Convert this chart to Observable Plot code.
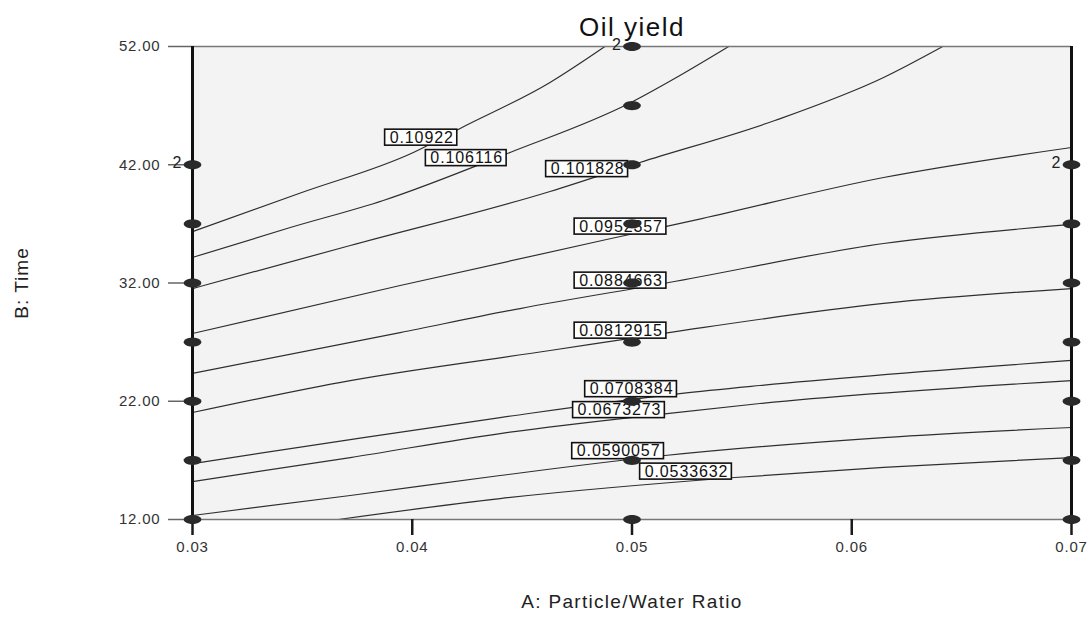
<!DOCTYPE html>
<html>
<head>
<meta charset="utf-8">
<script src="https://cdn.jsdelivr.net/npm/d3@7"></script>
<script src="https://cdn.jsdelivr.net/npm/@observablehq/plot@0.6"></script>
<style>
  html, body { margin: 0; padding: 0; background: #fff; }
  body { font-family: "Liberation Sans", Arial, sans-serif; }
</style>
</head>
<body>
<div id="chart"></div>
<script>
// ---- Text ----
const title = "Oil yield";
const xLabel = "A: Particle/Water Ratio";
const yLabel = "B: Time";

// ---- Tick values and labels ----
const xTicks = [0.03, 0.04, 0.05, 0.06, 0.07];
const xTickLabels = ["0.03", "0.04", "0.05", "0.06", "0.07"];
const yTicks = [12, 22, 32, 42, 52];
const yTickLabels = ["12.00", "22.00", "32.00", "42.00", "52.00"];

// ---- Contour levels (labels) ----
const contourLevels = ["0.10922", "0.106116", "0.101828", "0.0952357", "0.0884663",
                       "0.0812915", "0.0708384", "0.0673273", "0.0590057", "0.0533632"];

// Contour traces: A (particle/water ratio) and B (time)
const contourA = [
  [0.03, 0.03491, 0.04005, 0.04218, 0.04627, 0.04877],
  [0.03, 0.03445, 0.03868, 0.04445, 0.04986, 0.05218, 0.0544],
  [0.03, 0.03718, 0.04627, 0.05036, 0.0565, 0.06145, 0.06414],
  [0.03, 0.03945, 0.04968, 0.05318, 0.06145, 0.07],
  [0.03, 0.03945, 0.04491, 0.05168, 0.06145, 0.07],
  [0.03, 0.03718, 0.04627, 0.05168, 0.06145, 0.07],
  [0.03, 0.03718, 0.044, 0.05218, 0.05582, 0.07],
  [0.03, 0.03718, 0.044, 0.05159, 0.05582, 0.07],
  [0.03, 0.03718, 0.044, 0.0515, 0.06145, 0.07],
  [0.03664, 0.044, 0.05468, 0.06145, 0.07]
];
const contourB = [
  [36.35, 39.61, 43.04, 45.07, 48.96, 52],
  [34.16, 36.69, 38.98, 43.04, 47.18, 49.55, 52],
  [31.53, 35.17, 39.74, 42.19, 45.74, 49.38, 52],
  [27.73, 31.79, 36.02, 37.45, 40.92, 43.46],
  [24.35, 27.81, 29.84, 32.04, 35.34, 36.95],
  [21.05, 23.75, 26.29, 27.81, 30.27, 31.53],
  [16.73, 18.76, 20.62, 22.65, 23.33, 25.45],
  [15.21, 17.24, 19.27, 20.96, 21.81, 23.75],
  [12.34, 14.03, 15.72, 17.41, 18.93, 19.78],
  [12, 13.77, 15.55, 16.40, 17.24]
];

// Contour label positions
const labelA = [0.04043, 0.04248, 0.04798, 0.0495, 0.0495, 0.0495, 0.04998, 0.04943, 0.04939, 0.05248];
const labelB = [44.30, 42.57, 41.64, 36.78, 32.21, 27.98, 23.03, 21.26, 17.79, 16.06];

// Design points
const designA = [0.03, 0.03, 0.03, 0.03, 0.03, 0.03, 0.03,
                 0.05, 0.05, 0.05, 0.05, 0.05, 0.05, 0.05, 0.05, 0.05,
                 0.07, 0.07, 0.07, 0.07, 0.07, 0.07, 0.07];
const designB = [42, 37, 32, 27, 22, 17, 12,
                 52, 47, 42, 37, 32, 27, 22, 17, 12,
                 42, 37, 32, 27, 22, 17, 12];

// Replicate counts
const replicateA = [0.03, 0.05, 0.07];
const replicateB = [42, 52, 42];
const replicateText = ["2", "2", "2"];

// ---- Build tables ----
const contours = contourLevels.flatMap((lv, i) =>
  contourA[i].map((a, j) => ({a, b: contourB[i][j], level: lv})));
const labels = contourLevels.map((lv, i) => ({a: labelA[i], b: labelB[i], text: lv}));
const design = designA.map((a, i) => ({a, b: designB[i]}));
const replicates = replicateA.map((a, i) => ({a, b: replicateB[i], text: replicateText[i]}));

const ellipse = {
  draw(ctx, size) {
    const r = Math.sqrt(size / Math.PI);
    const rx = r, ry = r * 0.52;
    const n = 28;
    for (let k = 0; k < n; k++) {
      const t = (k / n) * 2 * Math.PI;
      const px = rx * Math.cos(t), py = ry * Math.sin(t);
      if (k === 0) ctx.moveTo(px, py); else ctx.lineTo(px, py);
    }
    ctx.closePath();
  }
};

const font = "Liberation Sans, Arial, sans-serif";

const plot = Plot.plot({
  width: 1090,
  height: 618,
  marginLeft: 192,
  marginRight: 19,
  marginTop: 46,
  marginBottom: 99,
  x: {domain: [0.03, 0.07]},
  y: {domain: [12, 52]},
  style: {fontFamily: font, background: "#fff", overflow: "visible"},
  marks: [
    Plot.frame({fill: "#f3f3f3", stroke: null}),
    Plot.line(contours, {x: "a", y: "b", z: "level", stroke: "#2f2f2f", strokeWidth: 1.2, curve: "monotone-x"}),
    Plot.ruleY([12, 52], {stroke: "#777", strokeWidth: 1.5}),
    Plot.axisY(yTicks, {
      tickSize: 24, tickPadding: 8, fontSize: 15, label: null,
      tickFormat: d => yTickLabels[yTicks.indexOf(d)],
      stroke: "#666", strokeWidth: 1.5, fill: "#333"
    }),
    Plot.axisX(xTicks, {
      tickSize: 16, tickPadding: 6, fontSize: 15, label: null,
      tickFormat: d => xTickLabels[xTicks.indexOf(d)],
      stroke: "#1a1a1a", strokeWidth: 2.5, fill: "#333"
    }),
    Plot.ruleX([0.03, 0.07], {stroke: "#111", strokeWidth: 3}),
    Plot.text([title], {frameAnchor: "top", lineAnchor: "middle", dy: -19, fontSize: 26, fill: "#111"}),
    Plot.text([xLabel], {frameAnchor: "bottom", lineAnchor: "middle", dy: 82, fontSize: 19, fill: "#222"}),
    Plot.text([yLabel], {frameAnchor: "left", textAnchor: "middle", lineAnchor: "middle", rotate: -90, dx: -171, fontSize: 19, fill: "#222"}),
    Plot.text(labels, {x: "a", y: "b", text: "text", fontSize: 16, fill: "#111", lineAnchor: "middle"}),
    Plot.dot(design, {x: "a", y: "b", r: 8.8, symbol: ellipse, fill: "#2a2a2a", stroke: null}),
    Plot.text(replicates, {x: "a", y: "b", text: "text", textAnchor: "end", lineAnchor: "middle", dx: -11, dy: -2, fontSize: 16, fill: "#222"})
  ]
});

document.getElementById("chart").appendChild(plot);

// Letter spacing to match the wide type of the reference
const svg = plot;
const levelSet = new Set(contourLevels);
svg.querySelectorAll("text").forEach(t => {
  const s = t.textContent;
  if (levelSet.has(s)) t.style.letterSpacing = "0.9px";
  else if (s === title) t.style.letterSpacing = "1.5px";
  else if (s === xLabel) t.style.letterSpacing = "1.3px";
  else if (s === yLabel) t.style.letterSpacing = "1px";
  else if (yTickLabels.includes(s) || xTickLabels.includes(s)) t.style.letterSpacing = "0.8px";
});

// Boxes behind the contour labels
svg.querySelectorAll("text").forEach(t => {
  if (!levelSet.has(t.textContent)) return;
  const bb = t.getBBox();
  const rect = document.createElementNS("http://www.w3.org/2000/svg", "rect");
  rect.setAttribute("x", bb.x - 5);
  rect.setAttribute("y", bb.y + 0.5);
  rect.setAttribute("width", bb.width + 8);
  rect.setAttribute("height", bb.height - 1);
  rect.setAttribute("fill", "#fff");
  rect.setAttribute("stroke", "#111");
  rect.setAttribute("stroke-width", "1.6");
  const tr = t.getAttribute("transform");
  if (tr) rect.setAttribute("transform", tr);
  t.parentNode.insertBefore(rect, t);
});
</script>
</body>
</html>
